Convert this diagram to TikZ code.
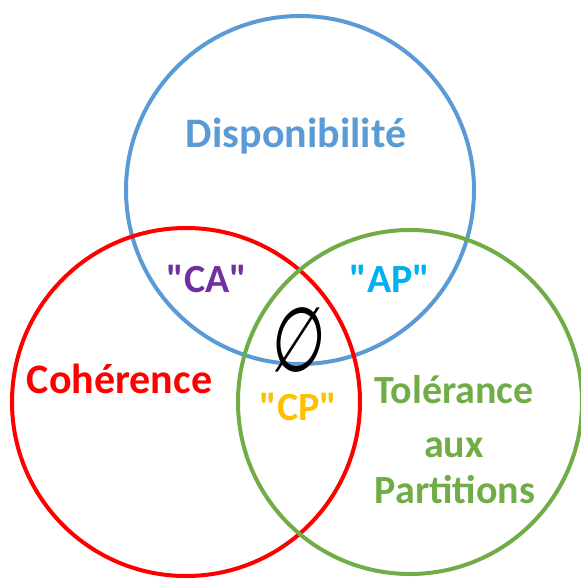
\documentclass[tikz,border=0pt]{standalone}
\usepackage{fontspec}
\setmainfont{Carlito}[Ligatures=TeXOff]
\newfontfamily\setsymfont{DejaVu Sans}[FakeSlant=0.1,FakeStretch=0.68]
\definecolor{cBlue}{HTML}{5B9BD5}
\definecolor{cRed}{HTML}{FF0000}
\definecolor{cGreen}{HTML}{70AD47}
\definecolor{cPurple}{HTML}{7030A0}
\definecolor{cSky}{HTML}{00B0F0}
\definecolor{cGold}{HTML}{FFC000}
\tikzset{
  setring/.style={line width=4pt},
  biglabel/.style={inner sep=0pt, anchor=base, font=\bfseries\fontsize{42}{50}\selectfont},
  pairlabel/.style={inner sep=0pt, anchor=base, font=\bfseries\fontsize{40}{48}\selectfont},
}
\begin{document}
\begin{tikzpicture}[x=1pt,y=-1pt]
  \useasboundingbox (0,0) rectangle (581,581);
  % the three property sets
  \draw[setring, cBlue]  (300,190) circle[radius=174];
  \draw[setring, cRed]   (186,402) circle[radius=174];
  \draw[setring, cGreen] (410,402) circle[radius=172];
  % set names
  \node[biglabel, text=cBlue] (dispo) at (296,147) {Disponibilité};
  \node[biglabel, text=cRed]  (coher) at (119.5,393) {Cohérence};
  \node[pairlabel, text=cGreen] (tol1) at (454,403) {Tolérance};
  \node[pairlabel, text=cGreen] (tol2) at (454,457) {aux};
  \node[pairlabel, text=cGreen] (tol3) at (455,503) {Partitions};
  % pairwise intersections
  \node[pairlabel, text=cPurple] (ca) at (207,292) {"CA"};
  \node[pairlabel, text=cSky]    (ap) at (390,292) {"AP"};
  \node[pairlabel, text=cGold]   (cp) at (298.5,420) {"CP"};
  % triple intersection
  \node[inner sep=0pt, font=\setsymfont\fontsize{90}{96}\selectfont] (empty) at (296,340) {∅};
\end{tikzpicture}
\end{document}
